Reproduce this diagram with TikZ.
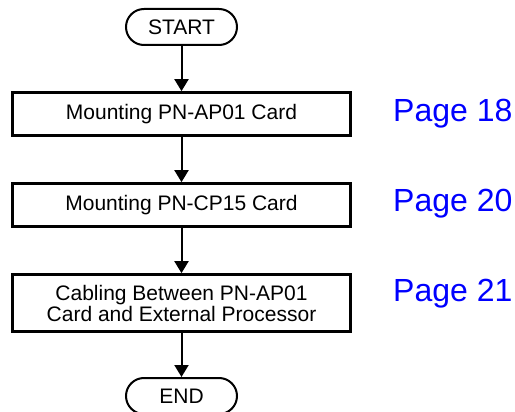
\documentclass[tikz,border=0pt]{standalone}
\usepackage{fontspec}
\setmainfont{Liberation Sans}
\usetikzlibrary{arrows.meta}
\definecolor{pageblue}{RGB}{0,0,255}
\begin{document}
\begin{tikzpicture}[x=1pt,y=-1pt,
  term/.style={draw, line width=2pt, rounded corners=18pt, minimum width=111pt, minimum height=36pt, inner sep=0pt, font=\fontsize{21}{21}\selectfont},
  stepbox/.style={draw, line width=2.7pt, minimum width=338pt, inner sep=0pt, align=center, font=\fontsize{21}{21}\selectfont},
  pagelbl/.style={text=pageblue, font=\fontsize{32}{32}\selectfont, anchor=base west, inner sep=0pt},
  flow/.style={line width=2pt, -{Triangle[length=12pt,width=14pt]}}]
\useasboundingbox (0,0) rectangle (515,412);
\clip (0,0) rectangle (515,412);
\node[term] (start) at (181.5,27) {START};
\node[stepbox, minimum height=43pt] (b1) at (181.5,114) {Mounting PN-AP01 Card};
\node[stepbox, minimum height=43pt] (b2) at (181.5,205) {Mounting PN-CP15 Card};
\node[stepbox, minimum height=57pt] (b3) at (181.5,303) {Cabling Between PN-AP01\\Card and External Processor};
\node[term] (end) at (181.5,396) {END};
\node[pagelbl] (p18) at (393,121.7) {Page 18};
\node[pagelbl] (p20) at (393,211.7) {Page 20};
\node[pagelbl] (p21) at (393,301.7) {Page 21};
\draw[flow] (start) -- (b1);
\draw[flow] (b1) -- (b2);
\draw[flow] (b2) -- (b3);
\draw[flow] (b3) -- (end);
\end{tikzpicture}
\end{document}
